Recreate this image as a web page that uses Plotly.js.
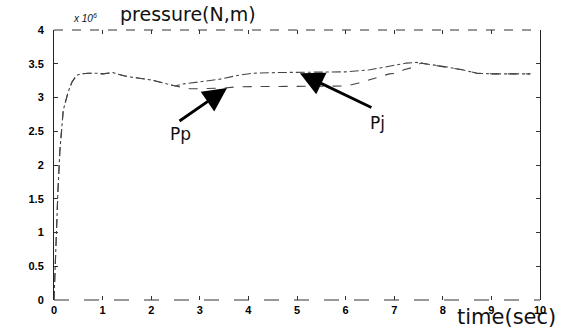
<!DOCTYPE html>
<html>
<head>
<meta charset="utf-8">
<script src="https://cdn.plot.ly/plotly-3.0.1.min.js"></script>
<style>html,body{margin:0;padding:0;background:#fff;}#chart{width:563px;height:331px;}</style>
</head>
<body>
<div id="chart"></div>
<script>
// time (sec) and pressure values (x 10^6)
var tPp = [0, 0.02, 0.05, 0.08, 0.12, 0.16, 0.19, 0.23, 0.29, 0.37, 0.47, 0.55, 0.7, 0.9, 1.0, 1.2, 1.5, 2.0, 2.2, 2.5,
           2.65, 2.8, 3.0, 3.2, 3.5, 3.8, 4.0, 4.6, 5.0, 5.5, 6.0, 6.25, 6.65, 6.9, 7.05, 7.2, 7.4, 7.55,
           7.8, 8.1, 8.4, 8.7, 9.0, 9.4, 9.8];
var Pp  = [0, 0.4, 1.2, 1.6, 2.2, 2.5, 2.81, 2.92, 3.08, 3.23, 3.33, 3.35, 3.36, 3.36, 3.35, 3.37, 3.31, 3.26, 3.22, 3.17,
           3.15, 3.13, 3.13, 3.13, 3.14, 3.16, 3.16, 3.17, 3.17, 3.17, 3.17, 3.21, 3.29, 3.35, 3.36, 3.41, 3.45, 3.51,
           3.48, 3.45, 3.41, 3.36, 3.35, 3.35, 3.35];
var tPj = [0, 0.02, 0.05, 0.08, 0.12, 0.16, 0.19, 0.23, 0.29, 0.37, 0.47, 0.55, 0.7, 0.9, 1.0, 1.2, 1.5, 2.0, 2.2, 2.5,
           2.65, 3.0, 3.4, 3.8, 4.1, 4.6, 5.0, 5.5, 6.0, 6.5, 7.05, 7.25, 7.45, 7.55,
           7.8, 8.1, 8.4, 8.7, 9.0, 9.4, 9.8];
var Pj  = [0, 0.4, 1.2, 1.6, 2.2, 2.5, 2.81, 2.92, 3.08, 3.23, 3.33, 3.35, 3.36, 3.36, 3.35, 3.37, 3.31, 3.26, 3.22, 3.17,
           3.2, 3.23, 3.27, 3.33, 3.36, 3.37, 3.37, 3.37, 3.38, 3.41, 3.48, 3.51, 3.52, 3.51,
           3.48, 3.45, 3.41, 3.36, 3.35, 3.35, 3.35];
var xTicks = [0, 1, 2, 3, 4, 5, 6, 7, 8, 9, 10];
var xTickText = ['0', '1', '2', '3', '4', '5', '6', '7', '8', '9', '10'];
var yTicks = [0, 0.5, 1, 1.5, 2, 2.5, 3, 3.5, 4];
var yTickText = ['0', '0.5', '1', '1.5', '2', '2.5', '3', '3.5', '4'];
var seriesNames = ['Pp', 'Pj'];

var traces = [
  {x: tPp, y: Pp, name: seriesNames[0], mode: 'lines', line: {color: '#444', width: 1.1, dash: 'dash'}},
  {x: tPj, y: Pj, name: seriesNames[1], mode: 'lines', line: {color: '#444', width: 1.1, dash: 'dashdot'}}
];

var tickFont = {family: 'Arial, Liberation Sans, sans-serif', size: 11, color: '#000', weight: 'bold'};
var layout = {
  width: 563, height: 331,
  margin: {l: 54, r: 23, t: 30, b: 31},
  paper_bgcolor: '#fff', plot_bgcolor: '#fff',
  showlegend: false,
  xaxis: {range: [0, 10], tickvals: xTicks, ticktext: xTickText, ticks: 'inside', ticklen: 4,
          tickcolor: '#333', showgrid: false, zeroline: false, showline: false, mirror: 'ticks',
          tickfont: tickFont, ticklabelstandoff: 2, fixedrange: true},
  yaxis: {range: [0, 4], tickvals: yTicks, ticktext: yTickText, ticks: 'inside', ticklen: 4,
          tickcolor: '#333', showgrid: false, zeroline: false, showline: true, linecolor: '#222',
          linewidth: 1, mirror: 'ticks', tickfont: tickFont, ticklabelstandoff: 7, fixedrange: true},
  shapes: [
    {type: 'line', xref: 'paper', yref: 'paper', x0: 0, x1: 1, y0: 1, y1: 1,
     line: {color: '#333', width: 1.2, dash: 'dash'}},
    {type: 'line', xref: 'paper', yref: 'paper', x0: 0, x1: 1, y0: 0, y1: 0,
     line: {color: '#333', width: 1.2, dash: 'longdash'}}
  ],
  annotations: [
    {xref: 'paper', yref: 'paper', x: 0.275, y: 1, yanchor: 'middle', xanchor: 'center', yshift: 16,
     text: 'pressure(N,m)', showarrow: false,
     font: {family: 'DejaVu Sans', size: 19, color: '#111'}},
    {xref: 'paper', yref: 'paper', x: 0.035, y: 1, yanchor: 'middle', yshift: 12, xanchor: 'left',
     text: '<i>x 10<sup>6</sup></i>',
     showarrow: false, font: {family: 'Arial, Liberation Sans', size: 10, color: '#111'}},
    {xref: 'paper', yref: 'paper', x: 1, y: 0, xshift: 18, yshift: -17, xanchor: 'right', yanchor: 'middle',
     text: 'time(sec)',
     showarrow: false, font: {family: 'DejaVu Sans', size: 21, color: '#111'}},
    {x: 3.56, y: 3.14, text: '', showarrow: true, arrowhead: 2, arrowsize: 1.7, arrowwidth: 2.8,
     arrowcolor: '#000', ax: -49, ay: 34},
    {x: 5.06, y: 3.36, text: '', showarrow: true, arrowhead: 2, arrowsize: 1.7, arrowwidth: 2.8,
     arrowcolor: '#000', ax: 73, ay: 35},
    {xref: 'x', yref: 'y', x: 2.61, y: 2.46, text: 'Pp', showarrow: false,
     font: {family: 'DejaVu Sans', size: 17, color: '#111'}},
    {xref: 'x', yref: 'y', x: 6.66, y: 2.62, text: 'Pj', showarrow: false,
     font: {family: 'DejaVu Sans', size: 17, color: '#111'}}
  ]
};
Plotly.newPlot('chart', traces, layout, {displayModeBar: false, staticPlot: true});
</script>
</body>
</html>
